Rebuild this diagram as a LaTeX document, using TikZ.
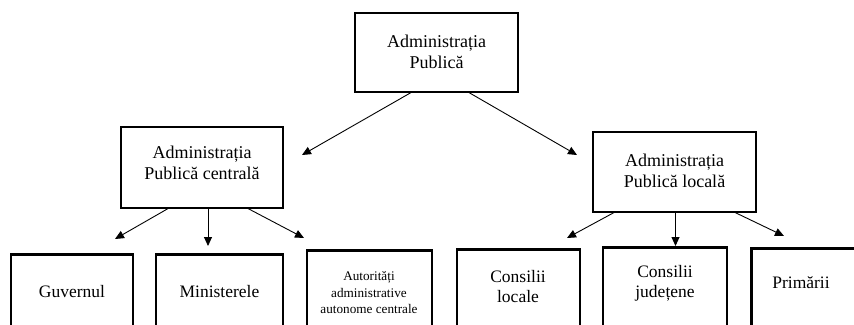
\documentclass[tikz,border=0pt]{standalone}
\usepackage{fontspec}
\setmainfont{Liberation Serif}
\usetikzlibrary{arrows.meta}
\begin{document}
\begin{tikzpicture}[x=1pt,y=-1pt,
  box/.style={draw=black,line width=2.6pt,rectangle,inner sep=0pt},
  bigtxt/.style={align=center,font=\fontsize{18}{21}\selectfont,inner sep=0pt},
  midtxt/.style={align=center,font=\fontsize{17.5}{20}\selectfont,inner sep=0pt},
  smalltxt/.style={align=center,font=\fontsize{13.2}{16.5}\selectfont,inner sep=0pt},
  conn/.style={line width=0.9pt,-{Triangle[length=9pt,width=8pt]}}]
\useasboundingbox (0,0) rectangle (854,324);
\clip (0,0) rectangle (854,324);
% upper boxes
\node[box,minimum width=163pt,minimum height=79pt] (top) at (436.5,52.5) {};
\node[bigtxt] (toptxt) at (436.5,52) {Administrația\\Publică};
\node[box,minimum width=162pt,minimum height=81pt] (cen) at (202,167.5) {};
\node[bigtxt] (centxt) at (202,163) {Administrația\\Publică centrală};
\node[box,minimum width=163pt,minimum height=80pt] (loc) at (674.5,172) {};
\node[bigtxt] (loctxt) at (674.5,171) {Administrația\\Publică locală};
% bottom boxes (cut by the page edge)
\node[box,anchor=north,minimum width=122pt,minimum height=100pt] (guv) at (72,253) {};
\node[midtxt] (guvtxt) at (72,292) {Guvernul};
\node[box,anchor=north,minimum width=127pt,minimum height=100pt] (min) at (219.5,253) {};
\node[midtxt] (mintxt) at (219.5,292) {Ministerele};
\node[box,anchor=north,minimum width=125pt,minimum height=100pt] (aut) at (369.5,249) {};
\node[smalltxt] (auttxt) at (369,293) {Autorități\\administrative\\autonome centrale};
\node[box,anchor=north,minimum width=123pt,minimum height=100pt] (cl) at (518.5,248) {};
\node[midtxt] (cltxt) at (518,287) {Consilii\\locale};
\node[box,anchor=north,minimum width=124pt,minimum height=100pt] (cj) at (665,246) {};
\node[midtxt] (cjtxt) at (665,283) {Consilii\\județene};
\node[box,anchor=north west,minimum width=120pt,minimum height=77.6pt] (pri) at (750,247) {};
\node[midtxt] (pritxt) at (801,283) {Primării};
% connector end points
\coordinate (t1) at (412,92);
\coordinate (t2) at (468,92);
\coordinate (e1) at (302,155);
\coordinate (e2) at (577,155);
\coordinate (c1) at (169,208);
\coordinate (c2) at (208,208);
\coordinate (c3) at (247,208);
\coordinate (f1) at (115,239);
\coordinate (f2) at (208,246);
\coordinate (f3) at (304,238);
\coordinate (l1) at (615,212);
\coordinate (l2) at (675.5,212);
\coordinate (l3) at (734,212);
\coordinate (g1) at (567,238);
\coordinate (g2) at (675.5,246);
\coordinate (g3) at (784,236);
\draw[conn] (t1) -- (e1);
\draw[conn] (t2) -- (e2);
\draw[conn] (c1) -- (f1);
\draw[conn] (c2) -- (f2);
\draw[conn] (c3) -- (f3);
\draw[conn] (l1) -- (g1);
\draw[conn] (l2) -- (g2);
\draw[conn] (l3) -- (g3);
\end{tikzpicture}
\end{document}
